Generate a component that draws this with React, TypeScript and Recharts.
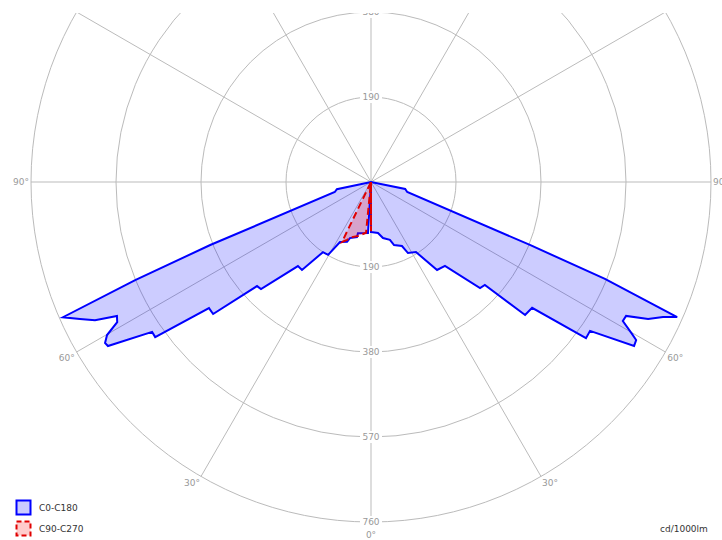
import React from "react";
import {
  Legend,
  PolarAngleAxis,
  PolarGrid,
  PolarRadiusAxis,
  Radar,
  RadarChart,
} from "recharts";

const FONT = "Tahoma, 'DejaVu Sans', Verdana, sans-serif";
const TOP_CUT = 13; // the diagram is cut off at the top of the picture
const CX = 371;
const CY = 182 - TOP_CUT;

// gamma angle from nadir (deg) and intensity (cd/1000lm)
const c0Gamma = [0, 7.8, 12.1, 18.1, 20.1, 25.8, 27.5, 32.7, 36.9, 41.4, 45.8, 47.9, 49.2, 52, 54, 55.8, 58.05, 59.2, 59.8, 61.1, 62.3, 63.7, 65.2, 66.2, 67.5, 68.4, 74.5, 78.4, 80, 90];
const c0Values = [112, 115, 128, 136, 150, 159, 179, 186, 246, 250, 340, 343, 455, 457, 594, 592, 693, 690, 675, 643, 644, 691, 719, 748, 566, 382, 84, 78, 0, 0];

const c180Gamma = [90, 80, 78, 74.5, 68.6, 67.4, 66.3, 64.8, 63.4, 62.2, 61.1, 59.9, 58.8, 58.05, 55.6, 54.3, 52.1, 50.1, 47.6, 45.8, 41, 38.1, 34.4, 30.5, 27.3, 21.8, 20.6, 14.3, 14.3, 3.4];
const c180Values = [0, 0, 78, 84, 386, 571, 752, 719, 690, 642, 648, 682, 695, 693, 593, 594, 459, 460, 345, 343, 249, 250, 190, 189, 151, 144, 134, 127, 118, 114];

const c90Gamma = [0, 2, 90];
const c90Values = [110, 0, 0];

const c270Gamma = [90, 27, 25.8, 22.5, 18.1, 13.5, 5.6];
const c270Values = [0, 0, 149, 140, 129, 124, 114];

const angleTicks = [0, 30, 60, 90, 120, 150, 180, 210, 240, 270, 300, 330];
const radiusTicks = [0, 190, 380, 570, 760];

const series = [
  { key: "c0c180", name: "C0-C180", stroke: "#0000ff", fill: "#0000ff", dash: undefined },
  { key: "c90c270", name: "C90-C270", stroke: "#e00000", fill: "#ff0000", dash: "7 4" },
];

// C0 / C90 on the right half, C180 / C270 mirrored to the left half
const rows = [
  ...c0Gamma.map((g, i) => ({ angle: g, c0c180: c0Values[i] })),
  ...c180Gamma.map((g, i) => ({ angle: 360 - g, c0c180: c180Values[i] })),
  ...c90Gamma.map((g, i) => ({ angle: g, c90c270: c90Values[i] })),
  ...c270Gamma.map((g, i) => ({ angle: 360 - g, c90c270: c270Values[i] })),
];

function AngleTick(props: any) {
  const { x, y, payload, textAnchor } = props;
  const v = payload.value;
  const g = v <= 180 ? v : 360 - v;
  if (g > 90) return null;
  const dy = g === 0 ? 11 : g === 90 ? 0 : 5;
  return (
    <text
      x={x}
      y={y + dy}
      textAnchor={textAnchor}
      dominantBaseline="central"
      fill="#999"
      fontSize={9}
      fontFamily={FONT}
    >
      {g}°
    </text>
  );
}

function RadiusTick(props: any) {
  const { x, y, payload } = props;
  if (!payload.value) return null;
  const label = String(payload.value);
  const w = label.length * 6 + 4;
  const spots = [
    [x, y],
    [2 * CX - x, 2 * CY - y],
  ];
  return (
    <g>
      {spots.map(([px, py], i) => (
        <g key={i}>
          <rect x={px - w / 2} y={py - 6} width={w} height={12} fill="#fff" />
          <text
            x={px}
            y={py}
            textAnchor="middle"
            dominantBaseline="central"
            fill="#999"
            fontSize={9}
            fontFamily={FONT}
          >
            {label}
          </text>
        </g>
      ))}
    </g>
  );
}

function LegendBox() {
  return (
    <div style={{ fontFamily: FONT, fontSize: 9, color: "#333" }}>
      {series.map((s) => (
        <div key={s.key} style={{ display: "flex", alignItems: "center", height: 21 }}>
          <svg width={17} height={17}>
            <rect
              x={1.5}
              y={1.5}
              width={14}
              height={14}
              fill={s.fill}
              fillOpacity={0.2}
              stroke={s.stroke}
              strokeWidth={2}
              strokeDasharray={s.dash ? "5 3" : undefined}
            />
          </svg>
          <span style={{ marginLeft: 7 }}>{s.name}</span>
        </div>
      ))}
    </div>
  );
}

export default function App() {
  return (
    <div
      style={{
        position: "absolute",
        left: 0,
        top: 0,
        width: 722,
        height: 540,
        background: "#fff",
        overflow: "hidden",
      }}
    >
      <div
        style={{
          position: "absolute",
          left: 0,
          top: TOP_CUT,
          width: 722,
          height: 540 - TOP_CUT,
          overflow: "hidden",
        }}
      >
        <RadarChart
          width={722}
          height={540 - TOP_CUT}
          cx={CX}
          cy={CY}
          outerRadius={340}
          startAngle={-90}
          endAngle={270}
          data={rows}
          margin={{ top: 0, right: 0, bottom: 0, left: 0 }}
        >
          <PolarGrid gridType="circle" stroke="#bbb" strokeWidth={1} />
          <PolarAngleAxis
            dataKey="angle"
            type="number"
            domain={[0, 360]}
            ticks={angleTicks}
            axisLine={false}
            tickLine={false}
            tickSize={2}
            tick={AngleTick}
          />
          <PolarRadiusAxis
            angle={-90}
            type="number"
            domain={[0, 760]}
            ticks={radiusTicks}
            axisLine={false}
            tickLine={false}
            tick={RadiusTick}
          />
          {series.map((s) => (
            <Radar
              key={s.key}
              name={s.name}
              dataKey={s.key}
              stroke={s.stroke}
              strokeWidth={2}
              strokeDasharray={s.dash}
              fill={s.fill}
              fillOpacity={0.2}
              connectNulls
              dot={false}
              activeDot={false}
              isAnimationActive={false}
            />
          ))}
          <Legend
            verticalAlign="bottom"
            align="left"
            wrapperStyle={{ left: 15, top: 484, width: 120 }}
            content={() => <LegendBox />}
          />
        </RadarChart>
      </div>
      <div
        style={{
          position: "absolute",
          left: 660,
          top: 523,
          fontFamily: FONT,
          fontSize: 9,
          lineHeight: "12px",
          color: "#333",
        }}
      >
        cd/1000lm
      </div>
    </div>
  );
}
